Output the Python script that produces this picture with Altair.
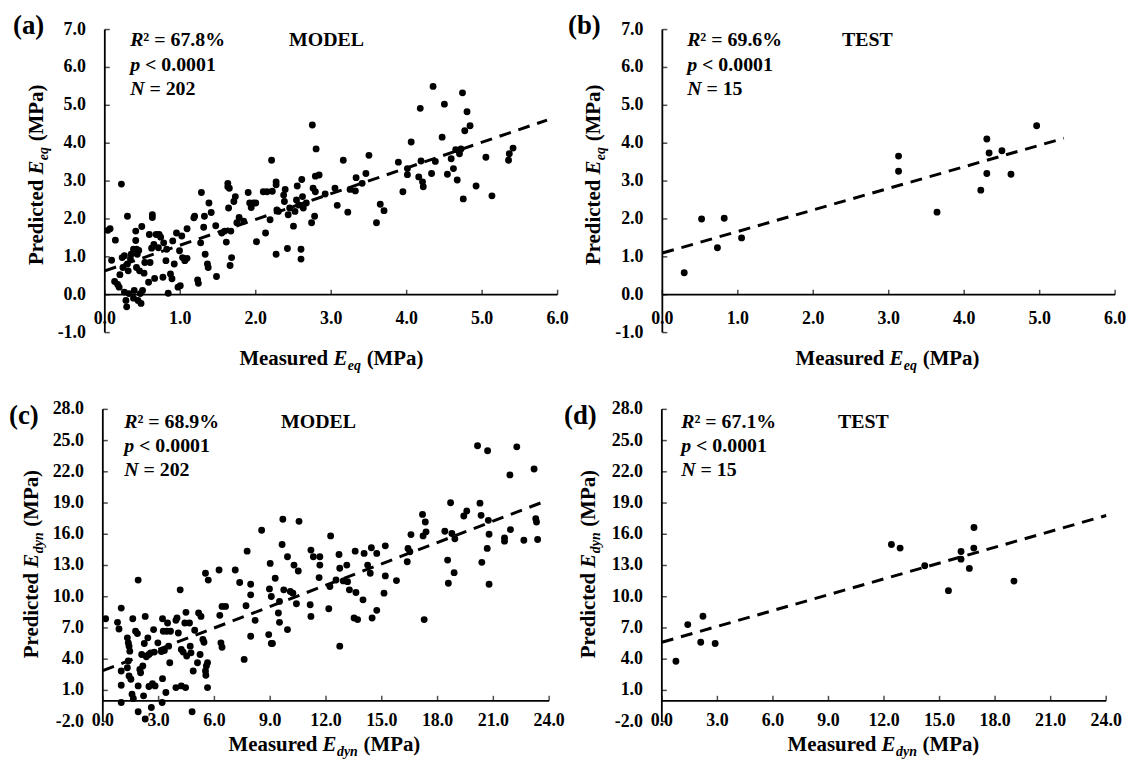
import altair as alt
import pandas as pd

FONT = "Liberation Serif"
OX, OY = 8, 8  # page margin

# ---------------- data ----------------
# (a) MODEL, E_eq
a_pts = [(0.04,1.70),(0.07,1.74),(0.09,0.91),(0.14,1.44),(0.22,2.92),(0.13,0.35),(0.17,0.27),(0.19,0.2),(0.2,0.53),(0.23,0.98),(0.24,0.72),(0.26,1.03),(0.26,0.07),(0.28,-0.15),(0.29,-0.32),(0.30,0.81),(0.30,2.07),(0.31,0.63),(0.32,0.03),(0.34,0.94),(0.35,1.07),(0.38,-0.09),(0.38,1.2),(0.39,0.11),(0.41,1.68),(0.41,1.43),(0.42,0.72),(0.42,1.2),(0.43,1.07),(0.44,-0.15),(0.45,1.17),(0.46,0.63),(0.47,0.03),(0.48,-0.23),(0.49,1.8),(0.5,0.11),(0.52,0.57),(0.53,0.85),(0.58,0.33),(0.60,0.85),(0.59,1.59),(0.62,1.23),(0.63,2.11),(0.63,2.04),(0.65,1.33),(0.66,0.43),(0.68,1.59),(0.71,1.24),(0.72,1.59),(0.74,1.52),(0.77,0.46),(0.78,1.37),(0.81,0.9),(0.82,1.2),(0.84,0.04),(0.87,0.55),(0.89,0.42),(0.90,1.42),(0.92,0.81),(0.95,1.63),(0.97,0.2),(0.99,1.16),(1.0,0.24),(1.02,1.55),(1.03,0.98),(1.06,0.9),(1.09,1.74),(1.09,0.96),
(1.18,2.03),(1.19,2.07),(1.23,0.39),(1.24,0.3),(1.28,2.7),(1.27,1.37),(1.31,1.78),(1.32,2.07),(1.33,1.07),(1.36,0.81),(1.37,0.72),(1.38,2.42),(1.41,2.17),(1.47,1.82),(1.48,0.48),(1.55,1.63),(1.59,1.68),(1.61,1.39),(1.63,2.94),(1.63,2.85),(1.64,2.29),(1.65,2.81),(1.66,0.77),(1.67,1.68),(1.68,0.98),(1.71,2.46),(1.73,2.59),(1.75,1.9),(1.78,2.04),(1.84,1.94),(1.9,2.7),(1.92,2.42),(1.94,2.3),(1.97,2.42),(2.0,2.42),(2.01,1.4),
(2.1,2.72),(2.13,1.63),(2.15,2.72),(2.19,1.98),(2.21,3.55),(2.22,2.73),(2.27,1.07),(2.28,2.24),(2.27,2.98),(2.27,2.9),(2.3,2.2),(2.37,2.63),(2.39,2.78),(2.38,2.46),(2.42,1.22),(2.43,2.11),(2.45,2.29),(2.5,1.81),(2.52,2.2),(2.55,2.87),(2.54,2.5),(2.57,2.37),(2.6,1.2),(2.6,0.94),(2.61,3.04),(2.62,2.59),(2.63,2.29),(2.67,2.42),(2.74,1.9),(2.75,4.48),(2.76,2.81),(2.78,2.07),(2.79,2.72),(2.8,3.85),(2.79,3.13),(2.84,3.16),
(2.92,2.66),(3.05,2.81),(3.08,2.36),(3.16,3.55),(3.22,2.18),(3.25,2.78),(3.32,2.74),(3.33,3.09),(3.41,2.94),(3.46,3.2),(3.5,3.68),(3.6,1.9),(3.65,2.39),(3.7,2.22),(3.89,3.5),(3.95,2.72),(4.01,3.33),(4.01,3.17),(4.06,4.03),(4.16,3.11),(4.18,4.92),(4.19,3.53),(4.21,2.98),(4.22,2.85),(4.33,3.2),(4.35,5.5),(4.38,3.52),(4.47,4.16),(4.5,5.03),(4.54,3.18),(4.59,3.59),(4.62,3.33),(4.65,3.83),(4.67,3.03),(4.7,3.72),(4.72,3.85),(4.74,5.33),(4.75,2.53),(4.77,4.33),(4.8,4.83),(4.84,4.46),(4.92,2.87),(5.05,3.63),(5.13,2.61),(5.35,3.55),(5.36,3.72),(5.41,3.87)]
a_fit_x = [0.0, 5.86]
a_fit_y = [0.63, 4.61]

# (b) TEST, E_eq
b_pts = [(0.29,0.58),(0.52,2.0),(0.82,2.02),(0.73,1.24),(1.05,1.50),(3.13,3.66),(3.13,3.26),(3.64,2.18),(4.22,2.76),(4.30,4.11),(4.33,3.74),(4.30,3.20),(4.50,3.80),(4.62,3.18),(4.96,4.46)]
b_fit_x = [0.0, 5.32]
b_fit_y = [1.10, 4.13]

# (c) MODEL, E_dyn
c_pts = [(0.15,7.89),(0.79,7.54),(0.87,6.9),(0.99,8.91),(0.99,2.86),(0.99,1.5),(0.99,-0.16),(1.32,6.05),(1.37,5.57),(1.41,5.25),(1.45,4.77),(1.37,3.82),(1.32,3.18),(1.41,2.39),(1.51,2.07),(1.57,0.64),(1.64,0.22),(1.61,7.89),(1.76,6.68),(1.86,6.46),(1.9,11.6),(1.9,1.43),(1.9,-1.05),(1.99,3.02),(2.03,2.7),(2.09,4.45),(2.15,3.34),(2.23,5.5),(2.28,8.11),(2.34,4.23),(2.19,0.48),(2.28,-1.75),(2.42,6.05),(2.48,4.45),(2.48,1.37),(2.57,4.61),(2.61,-0.64),(2.67,1.65),(2.73,6.84),(2.77,4.68),(2.81,1.43),(2.96,5.57),(3.15,4.74),(3.21,7.89),(3.25,6.68),(3.21,2.13),(3.19,-0.16),(3.31,4.83),(3.39,0.8),(3.44,6.68),(3.48,7.48),(3.54,5.25),(3.6,3.66),(3.64,6.68),(3.93,7.73),(3.93,1.27),(3.99,7.95),(4.06,6.52),(4.16,10.66),(4.22,1.43),(4.22,4.93),(4.32,4.68),(4.41,7.48),(4.45,1.27),(4.47,8.5),(4.51,4.3),(4.66,7.48),(4.7,5.25),(4.74,4.61),(4.8,-1.05),(4.86,2.86),(4.94,6.78),(5.09,3.66),(5.15,8.43),(5.23,4.45),(5.28,8.11),(5.38,5.89),(5.44,5.63),(5.52,12.25),(5.57,3.34),(5.52,2.86),(5.54,2.45),(5.63,3.66),(5.67,11.6),(5.63,1.27),
(6.29,8.21),(6.25,12.57),(6.35,5.57),(6.41,5.15),(6.41,9.07),(6.6,9.07),(7.12,12.57),(7.36,11.36),(7.6,3.98),(7.7,9.13),(7.76,14.38),(7.95,11.2),(7.95,6.2),(7.95,10.18),(8.19,7.73),(8.54,16.39),(8.92,6.36),(9.0,13.2),(9.06,5.5),(9.12,5.5),(8.96,10.75),(9.06,10.02),(9.27,11.77),(9.44,8.43),(9.5,7.54),(9.5,9.55),(9.64,15.02),(9.68,17.44),(9.73,10.66),(9.93,6.84),(9.93,13.84),(10.08,10.5),(10.22,10.34),(10.28,13.04),(10.41,9.32),(10.51,12.47),(10.55,17.24),
(11.15,9.23),(11.19,8.11),(11.19,14.48),(11.32,13.84),(11.63,11.84),(11.67,13.84),(11.67,13.04),(12.15,8.85),(12.21,10.98),(12.25,15.84),(12.54,11.61),(12.7,14.06),(12.74,12.73),(12.74,5.25),(12.93,11.52),(13.12,13.04),(13.16,11.45),(13.26,10.66),(13.51,7.95),(13.57,14.38),(13.61,10.4),(13.7,7.8),(13.99,9.7),(14.05,14.16),(14.24,13.04),(14.38,12.25),(14.44,14.7),(14.48,7.95),(14.73,14.16),(14.73,8.69),(15.19,14.89),(15.19,12.0),(15.12,10.34),(15.79,11.55),
(16.37,13.36),(16.41,14.64),(16.51,14.32),(16.57,15.97),(17.19,17.91),(17.22,15.84),(17.28,7.8),(17.34,17.18),(17.38,16.23),(18.39,16.29),(18.54,13.52),(18.58,11.3),(18.7,19.03),(18.77,16.07),(18.89,12.31),(18.93,15.56),(19.41,17.75),(19.57,18.23),(20.15,24.5),(20.28,18.99),(20.34,17.82),(20.38,13.3),(20.67,14.64),(20.69,24.02),(20.73,17.34),(20.77,16.0),(20.77,11.2),(21.89,21.7),(21.92,16.45),(21.6,15.65),(21.6,15.34),(22.26,24.4),(22.64,15.43),(23.19,22.27),(23.28,17.5),(23.32,17.18),(23.38,15.5)]
c_fit_x = [0.0, 23.6]
c_fit_y = [2.9, 19.05]

# (d) TEST, E_dyn
d_pts = [(0.76,3.8),(1.40,7.32),(2.22,8.12),(2.10,5.62),(2.88,5.50),(12.4,15.02),(12.87,14.67),(14.2,12.97),(15.48,10.58),(16.16,14.35),(16.16,13.61),(16.61,12.72),(16.86,16.65),(16.85,14.67),(19.02,11.5)]
d_fit_x = [0.0, 24.0]
d_fit_y = [5.63, 17.8]

# tick values / labels
eq_x_ticks = [0, 1, 2, 3, 4, 5, 6]
eq_x_labels = ["0.0", "1.0", "2.0", "3.0", "4.0", "5.0", "6.0"]
eq_y_ticks = [-1, 0, 1, 2, 3, 4, 5, 6, 7]
eq_y_labels = ["-1.0", "0.0", "1.0", "2.0", "3.0", "4.0", "5.0", "6.0", "7.0"]
dyn_x_ticks = [0, 3, 6, 9, 12, 15, 18, 21, 24]
dyn_x_labels = ["0.0", "3.0", "6.0", "9.0", "12.0", "15.0", "18.0", "21.0", "24.0"]
dyn_y_ticks = [-2, 1, 4, 7, 10, 13, 16, 19, 22, 25, 28]
dyn_y_labels = ["-2.0", "1.0", "4.0", "7.0", "10.0", "13.0", "16.0", "19.0", "22.0", "25.0", "28.0"]

stats_a = ["67.8%", "0.0001", "202"]
stats_b = ["69.6%", "0.0001", "15"]
stats_c = ["68.9%", "0.0001", "202"]
stats_d = ["67.1%", "0.0001", "15"]

TICK_FS = 18
NOTE_FS = 20
TITLE_FS = 21
SUB_FS = 14
LETTER_FS = 27


def txt(s, x, y, size, italic=False, align="left", baseline="alphabetic", angle=0, dx=0, dy=0):
    kw = dict(font=FONT, fontWeight="bold", fontSize=size, color="black",
              align=align, baseline=baseline, dx=dx, dy=dy)
    if italic:
        kw["fontStyle"] = "italic"
    if angle:
        kw["angle"] = angle
    return alt.Chart(pd.DataFrame({"t": [s]})).mark_text(**kw).encode(
        x=alt.value(x - OX), y=alt.value(y - OY), text="t:N")


def axis_title(prefix, sub, cx, cy, rotated):
    size, ssize = TITLE_FS, SUB_FS
    sp = 0.25 * size
    wpre = (4.11 if prefix == "Predicted" else 4.276) * size + sp
    wE = 0.667 * size
    wsub = (0.944 if sub == "eq" else 1.5) * ssize
    wpost = 2.72 * size + sp
    total = wpre + wE + wsub + wpost
    a = -total / 2 + wpre  # anchor (start of E) along text direction, from centre
    if rotated:
        ax_, ay_ = cx, cy - a
        ang = 270
    else:
        ax_, ay_ = cx + a, cy
        ang = 0
    return [
        txt(prefix, ax_, ay_, size, align="right", angle=ang, dx=-sp),
        txt("E", ax_, ay_, size, italic=True, angle=ang),
        txt(sub, ax_, ay_, ssize, italic=True, angle=ang, dx=wE + 0.5, dy=5),
        txt("(MPa)", ax_, ay_, size, angle=ang, dx=wE + wsub + sp + 1),
    ]


def panel(pts, fx, fy, xdom, ydom, xr, yr, xt, xl, yt, yl, letter, stats, tag, sub, geo):
    xs_ = alt.Scale(domain=xdom, range=[xr[0] - OX, xr[1] - OX], nice=False, zero=False)
    ys_ = alt.Scale(domain=ydom, range=[yr[0] - OY, yr[1] - OY], nice=False, zero=False)
    X = lambda f: alt.X(f, type="quantitative", scale=xs_, axis=None)
    Y = lambda f: alt.Y(f, type="quantitative", scale=ys_, axis=None)

    df = pd.DataFrame({"x": [p[0] for p in pts], "y": [p[1] for p in pts]})
    points = alt.Chart(df).mark_circle(size=48, color="black", opacity=1).encode(x=X("x"), y=Y("y"))
    fit = alt.Chart(pd.DataFrame({"x": fx, "y": fy})).mark_line(
        color="black", strokeWidth=3, strokeDash=[12, 8]).encode(x=X("x"), y=Y("y"))

    axd = pd.DataFrame({"x0": [xdom[0]], "x1": [xdom[1]], "y0": [ydom[0]], "y1": [ydom[1]], "z": [0]})
    yline = alt.Chart(axd).mark_rule(color="black", strokeWidth=1.8).encode(
        x=X("z"), y=Y("y0"), y2="y1")
    xline = alt.Chart(axd).mark_rule(color="black", strokeWidth=1.8).encode(
        x=X("x0"), x2="x1", y=Y("z"))

    xtd = pd.DataFrame({"v": xt, "z": [0] * len(xt), "lab": xl})
    ytd = pd.DataFrame({"v": yt, "z": [0] * len(yt), "lab": yl})
    xticks = alt.Chart(xtd).mark_tick(orient="vertical", size=5, thickness=1.5, color="black",
                                      yOffset=-2.5).encode(x=X("v"), y=Y("z"))
    yticks = alt.Chart(ytd).mark_tick(orient="horizontal", size=5, thickness=1.5, color="black",
                                      xOffset=2.5).encode(x=X("z"), y=Y("v"))
    xlabs = alt.Chart(xtd).mark_text(font=FONT, fontWeight="bold", fontSize=TICK_FS, color="black",
                                     align="center", baseline="middle", dy=geo["xlab_dy"]).encode(
        x=X("v"), y=Y("z"), text="lab:N")
    ylabs = alt.Chart(ytd).mark_text(font=FONT, fontWeight="bold", fontSize=TICK_FS, color="black",
                                     align="right", baseline="middle", dx=-19).encode(
        x=X("z"), y=Y("v"), text="lab:N")

    lx, ly = geo["letter"]
    sx, sy = geo["stats"]
    tx = geo["tag"]
    sp = 0.25 * NOTE_FS
    layers = [points, fit, yline, xline, xticks, yticks, xlabs, ylabs,
              txt(letter, lx, ly, LETTER_FS, baseline="middle"),
              txt("R", sx, sy, NOTE_FS, italic=True),
              txt("\u00b2 = " + stats[0], sx + 13.3, sy, NOTE_FS),
              txt("p", sx, sy + 24.5, NOTE_FS, italic=True),
              txt("< " + stats[1], sx + 10 + sp, sy + 24.5, NOTE_FS),
              txt("N", sx, sy + 49, NOTE_FS, italic=True),
              txt("= " + stats[2], sx + 14.4 + sp, sy + 49, NOTE_FS),
              txt(tag, tx, sy, NOTE_FS)]
    layers += axis_title("Measured", sub, geo["xtitle"][0], geo["xtitle"][1], False)
    layers += axis_title("Predicted", sub, geo["ytitle"][0], geo["ytitle"][1], True)
    return alt.layer(*layers)


pa = panel(a_pts, a_fit_x, a_fit_y, [0, 6], [-1, 7], [105.5, 561.5], [332.2, 27],
           eq_x_ticks, eq_x_labels, eq_y_ticks, eq_y_labels, "(a)", stats_a, "MODEL", "eq",
           {"letter": (13, 23), "stats": (131, 44), "tag": 291, "xlab_dy": 24,
            "xtitle": (333, 365), "ytitle": (43, 174)})
pb = panel(b_pts, b_fit_x, b_fit_y, [0, 6], [-1, 7], [667, 1123], [332.2, 27],
           eq_x_ticks, eq_x_labels, eq_y_ticks, eq_y_labels, "(b)", stats_b, "TEST", "eq",
           {"letter": (572, 23), "stats": (692, 44), "tag": 848, "xlab_dy": 24,
            "xtitle": (893, 365), "ytitle": (604, 174)})
pc = panel(c_pts, c_fit_x, c_fit_y, [0, 24], [-2, 28], [103.5, 553], [724, 409.5],
           dyn_x_ticks, dyn_x_labels, dyn_y_ticks, dyn_y_labels, "(c)", stats_c, "MODEL", "dyn",
           {"letter": (9, 416), "stats": (125, 428), "tag": 283, "xlab_dy": 20,
            "xtitle": (326, 754), "ytitle": (38, 566)})
pdd = panel(d_pts, d_fit_x, d_fit_y, [0, 24], [-2, 28], [666.5, 1114], [724, 409.5],
            dyn_x_ticks, dyn_x_labels, dyn_y_ticks, dyn_y_labels, "(d)", stats_d, "TEST", "dyn",
            {"letter": (568, 416), "stats": (686, 428), "tag": 844, "xlab_dy": 20,
             "xtitle": (889, 754), "ytitle": (599, 566)})

chart = alt.layer(pa, pb, pc, pdd).resolve_scale(
    x="independent", y="independent"
).properties(
    width=1132, height=762, padding=0,
    autosize=alt.AutoSizeParams(type="none"),
    background="white",
).configure_view(strokeWidth=0)

chart.save("out.html", embed_options={"renderer": "svg", "actions": False})
